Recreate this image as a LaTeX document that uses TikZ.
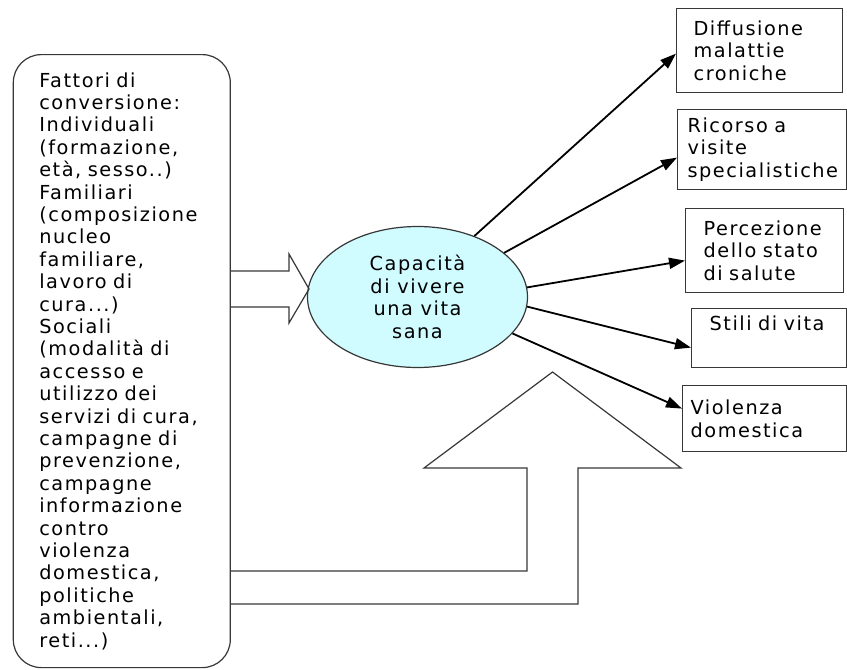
\documentclass[tikz,border=0pt]{standalone}
\usepackage{fontspec}
\setmainfont{DejaVu Sans}[LetterSpace=8]
\usetikzlibrary{arrows.meta,shapes.geometric,calc}
\hyphenpenalty=10000
\exhyphenpenalty=10000
\definecolor{capfill}{RGB}{208,252,255}
\definecolor{edgecol}{RGB}{55,55,55}
\begin{document}
\begin{tikzpicture}[x=1pt,y=-1pt,
  txt/.style={font=\fontsize{19.3}{22.4}\selectfont},
  outbox/.style={draw=edgecol, line width=1.2pt, rectangle, anchor=north west, inner xsep=0pt, inner ysep=0pt, align=left, txt},
  arr/.style={line width=1.8pt, -{Triangle[length=16pt,width=11pt]}},
  blockarrow/.style={draw=edgecol, line width=1.2pt}]
\useasboundingbox (0,0) rectangle (847,670);

\node[draw=edgecol, line width=1.2pt, rounded corners=28pt, minimum width=217pt, minimum height=613pt,
      text width=165pt, inner sep=0pt, align=left, txt, anchor=north west] (fac) at (12.7,54)
  {Fattori di\\conversione:\\Individuali\\(formazione,\\età, sesso..)\\Familiari\\(composizione\\nucleo\\familiare,\\lavoro di\\cura...)\\Sociali\\(modalità di\\accesso e\\utilizzo dei\\servizi di cura,\\campagne di\\prevenzione,\\campagne\\informazione\\contro\\violenza\\domestica,\\politiche\\ambientali,\\reti...)};

\node[ellipse, draw=edgecol, fill=capfill, line width=1.2pt, minimum width=220pt, minimum height=141pt,
      inner sep=0pt, align=center, txt] (cap) at (417.5,297) {Capacità\\di vivere\\una vita\\sana};

\draw[blockarrow] (fac.east |- 0,271) -- (289,271) -- (289,254) -- (309,289) -- (289,323) -- (289,307) -- (fac.east |- 0,307);
\draw[blockarrow] (fac.east |- 0,571) -- (527,571) -- (527,468) -- (424,468) -- (552.5,372) -- (681,468) -- (578,468) -- (578,604) -- (fac.east |- 0,604);

\node[outbox, minimum width=166pt, minimum height=84pt, text width=132pt] (d1) at (676,8) {Diffusione\\malattie\\croniche};
\node[outbox, minimum width=169pt, minimum height=80pt, text width=149pt] (d2) at (677,109) {Ricorso a\\visite\\specialistiche};
\node[outbox, minimum width=158pt, minimum height=84pt, text width=122pt] (d3) at (685,208) {Percezione\\dello stato\\di salute};
\node[outbox, minimum width=155pt, minimum height=59pt, text width=119pt] (d4) at (691,308) {Stili di vita\\\strut};
\node[outbox, minimum width=164pt, minimum height=66pt, text width=148pt] (d5) at (682,385) {Violenza\\domestica};

\draw[arr] (cap.47) -- ([yshift=-3pt]d1.west);
\draw[arr] (cap.27.6) -- ([yshift=-8pt]d2.west);
\draw[arr] (cap.5.7) -- ([yshift=-10pt]d3.west);
\draw[arr] (cap.-5.8) -- ([yshift=-9.5pt]d4.west);
\draw[arr] (cap.-21.8) -- ([yshift=10pt]d5.west);
\end{tikzpicture}
\end{document}
